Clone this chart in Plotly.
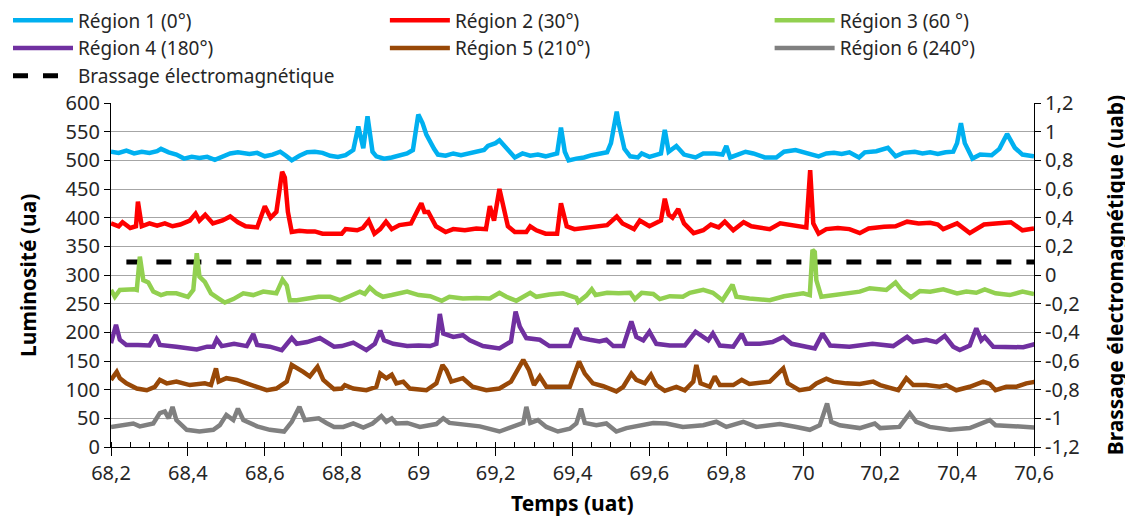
import plotly.graph_objects as go

# temps (uat) et luminosité (ua) relevés pour chaque région
t_r1 = [68.20, 68.22, 68.24, 68.26, 68.28, 68.30, 68.32, 68.33, 68.35, 68.37, 68.39, 68.41, 68.43, 68.45,
        68.47, 68.49, 68.51, 68.53, 68.56, 68.58, 68.60, 68.62, 68.64, 68.655, 68.67, 68.69, 68.71, 68.73,
        68.75, 68.77, 68.79, 68.81, 68.83, 68.843, 68.856, 68.867, 68.88, 68.89, 68.91, 68.93, 68.95, 68.97,
        68.985, 68.999, 69.01, 69.02, 69.04, 69.05, 69.07, 69.09, 69.11, 69.13, 69.15, 69.17, 69.18, 69.20,
        69.21, 69.23, 69.25, 69.27, 69.29, 69.31, 69.33, 69.36, 69.37, 69.38, 69.39, 69.41, 69.43, 69.45,
        69.47, 69.49, 69.50, 69.515, 69.52, 69.535, 69.55, 69.57, 69.58, 69.60, 69.62, 69.63, 69.64, 69.65,
        69.67, 69.69, 69.72, 69.74, 69.77, 69.79, 69.80, 69.81, 69.83, 69.85, 69.87, 69.90, 69.93, 69.95,
        69.98, 70.00, 70.02, 70.04, 70.06, 70.08, 70.10, 70.12, 70.145, 70.16, 70.19, 70.22, 70.24, 70.26,
        70.29, 70.31, 70.33, 70.35, 70.37, 70.39, 70.40, 70.41, 70.42, 70.44, 70.46, 70.49, 70.51, 70.53,
        70.55, 70.57, 70.59, 70.60]
lum_r1 = [515, 513, 517, 512, 515, 513, 516, 520, 514, 510, 503, 506, 504, 506,
          501, 506, 512, 514, 511, 513, 507, 510, 515, 508, 500, 508, 514, 515,
          513, 508, 506, 509, 518, 559, 521, 577, 515, 507, 503, 505, 509, 512,
          518, 580, 565, 545, 520, 510, 508, 512, 509, 512, 515, 518, 525, 530,
          535, 520, 505, 512, 508, 510, 507, 512, 557, 515, 500, 503, 505, 509,
          511, 514, 530, 585, 565, 520, 507, 505, 512, 506, 510, 512, 553, 515,
          525, 510, 505, 512, 512, 510, 525, 505, 510, 515, 512, 505, 505, 515,
          518, 515, 511, 507, 512, 513, 511, 514, 505, 514, 516, 522, 507, 513,
          515, 512, 514, 511, 514, 515, 530, 565, 530, 503, 510, 509, 520, 546,
          522, 510, 508, 507]

t_r2 = [68.20, 68.22, 68.23, 68.25, 68.265, 68.27, 68.28, 68.30, 68.32, 68.34, 68.36, 68.38, 68.405, 68.42,
        68.43, 68.445, 68.465, 68.49, 68.51, 68.53, 68.55, 68.58, 68.60, 68.615, 68.63, 68.645, 68.652,
        68.66, 68.67, 68.69, 68.71, 68.73, 68.75, 68.77, 68.80, 68.81, 68.84, 68.855, 68.87, 68.885, 68.90,
        68.915, 68.93, 68.95, 68.98, 68.999, 69.007, 69.015, 69.025, 69.045, 69.07, 69.09, 69.12, 69.15,
        69.175, 69.185, 69.196, 69.21, 69.22, 69.232, 69.25, 69.28, 69.29, 69.306, 69.33, 69.36, 69.37,
        69.385, 69.405, 69.43, 69.46, 69.49, 69.515, 69.53, 69.56, 69.575, 69.60, 69.63, 69.64, 69.65,
        69.66, 69.675, 69.69, 69.715, 69.74, 69.76, 69.78, 69.796, 69.818, 69.845, 69.865, 69.89, 69.913,
        69.94, 69.956, 69.98, 70.008, 70.018, 70.026, 70.04, 70.06, 70.09, 70.12, 70.147, 70.17, 70.21,
        70.24, 70.27, 70.30, 70.33, 70.35, 70.364, 70.40, 70.433, 70.47, 70.50, 70.54, 70.57, 70.60]
lum_r2 = [390, 385, 392, 382, 385, 428, 385, 390, 386, 390, 385, 388, 395, 407,
          395, 405, 390, 395, 402, 392, 385, 383, 420, 400, 410, 480, 470,
          410, 375, 377, 376, 376, 372, 372, 372, 380, 378, 382, 395, 372, 380,
          393, 380, 387, 390, 415, 425, 410, 410, 385, 375, 380, 378, 381,
          380, 420, 395, 450, 420, 385, 375, 375, 385, 378, 372, 372, 425,
          385, 380, 382, 385, 387, 402, 390, 380, 395, 385, 395, 433, 405,
          400, 415, 390, 373, 378, 388, 383, 393, 378, 392, 385, 383, 380,
          390, 388, 385, 383, 483, 390, 372, 380, 382, 380, 373, 381, 384,
          385, 393, 390, 391, 388, 380, 390, 373, 388, 390, 392, 378, 381]

t_r3 = [68.20, 68.21, 68.223, 68.24, 68.26, 68.267, 68.275, 68.284, 68.297, 68.31, 68.33, 68.345, 68.37,
        68.40, 68.414, 68.423, 68.43, 68.444, 68.46, 68.48, 68.496, 68.518, 68.544, 68.57, 68.596, 68.63,
        68.646, 68.657, 68.665, 68.683, 68.71, 68.74, 68.77, 68.795, 68.82, 68.847, 68.86, 68.873, 68.89,
        68.907, 68.93, 68.97, 69.00, 69.03, 69.06, 69.08, 69.115, 69.15, 69.185, 69.21, 69.228, 69.254,
        69.29, 69.306, 69.34, 69.375, 69.41, 69.415, 69.436, 69.45, 69.46, 69.49, 69.52, 69.55, 69.562,
        69.58, 69.61, 69.627, 69.653, 69.687, 69.705, 69.74, 69.765, 69.79, 69.816, 69.826, 69.86, 69.913,
        69.95, 70.00, 70.017, 70.024, 70.03, 70.034, 70.047, 70.078, 70.112, 70.147, 70.173, 70.216, 70.24,
        70.255, 70.28, 70.303, 70.33, 70.364, 70.40, 70.424, 70.45, 70.472, 70.50, 70.537, 70.57, 70.60]
lum_r3 = [274, 262, 274, 275, 275, 274, 332, 291, 287, 271, 265, 268, 268,
          262, 274, 338, 297, 288, 268, 259, 252, 258, 268, 265, 271, 268,
          292, 282, 256, 256, 259, 262, 262, 256, 263, 271, 267, 278, 268,
          262, 265, 271, 265, 263, 255, 262, 259, 260, 259, 269, 262, 255,
          269, 262, 266, 268, 260, 253, 264, 275, 265, 269, 268, 269, 258,
          269, 267, 258, 263, 262, 269, 274, 269, 256, 283, 262, 259, 256,
          263, 268, 265, 344, 340, 291, 262, 265, 268, 271, 277, 274, 287,
          274, 261, 272, 271, 275, 268, 271, 269, 275, 268, 265, 271, 267]

t_r4 = [68.20, 68.213, 68.223, 68.24, 68.27, 68.30, 68.316, 68.327, 68.37, 68.40, 68.423, 68.45, 68.466,
        68.475, 68.488, 68.52, 68.553, 68.57, 68.58, 68.613, 68.644, 68.67, 68.683, 68.71, 68.743, 68.78,
        68.80, 68.83, 68.864, 68.886, 68.90, 68.91, 68.934, 68.97, 69.00, 69.03, 69.046, 69.055, 69.064,
        69.09, 69.115, 69.133, 69.167, 69.21, 69.24, 69.252, 69.263, 69.28, 69.315, 69.34, 69.376, 69.393,
        69.41, 69.423, 69.445, 69.47, 69.488, 69.506, 69.532, 69.553, 69.566, 69.584, 69.60, 69.618, 69.653,
        69.692, 69.72, 69.735, 69.753, 69.765, 69.783, 69.818, 69.84, 69.852, 69.887, 69.92, 69.948, 69.97,
        70.00, 70.03, 70.05, 70.07, 70.12, 70.18, 70.234, 70.27, 70.286, 70.32, 70.346, 70.368, 70.39,
        70.407, 70.433, 70.45, 70.463, 70.472, 70.494, 70.537, 70.572, 70.606]
lum_r4 = [181, 213, 187, 178, 178, 177, 195, 178, 175, 172, 170, 175, 175,
          188, 176, 180, 176, 197, 178, 175, 169, 190, 180, 183, 190, 175,
          176, 182, 169, 180, 203, 186, 180, 176, 177, 176, 180, 232, 198,
          192, 195, 186, 176, 172, 184, 236, 210, 190, 187, 176, 176, 176,
          207, 190, 187, 184, 187, 176, 176, 219, 192, 186, 201, 180, 177,
          177, 201, 195, 186, 198, 177, 175, 197, 180, 180, 183, 192, 180,
          176, 172, 198, 177, 175, 180, 176, 192, 183, 187, 183, 194, 175,
          169, 177, 207, 186, 192, 175, 175, 174, 180]

t_r5 = [68.20, 68.215, 68.223, 68.24, 68.267, 68.293, 68.314, 68.327, 68.345, 68.37, 68.405, 68.444,
        68.46, 68.473, 68.48, 68.50, 68.527, 68.553, 68.58, 68.605, 68.63, 68.657, 68.67, 68.687, 68.70,
        68.717, 68.737, 68.752, 68.77, 68.78, 68.80, 68.808, 68.83, 68.864, 68.89, 68.90, 68.916, 68.93,
        68.942, 68.96, 68.977, 69.02, 69.046, 69.062, 69.072, 69.085, 69.115, 69.14, 69.176, 69.21, 69.24,
        69.254, 69.272, 69.287, 69.30, 69.315, 69.332, 69.367, 69.393, 69.417, 69.432, 69.453, 69.48,
        69.514, 69.532, 69.553, 69.566, 69.588, 69.604, 69.618, 69.64, 69.67, 69.692, 69.714, 69.722,
        69.733, 69.757, 69.77, 69.783, 69.818, 69.84, 69.86, 69.913, 69.948, 69.96, 69.99, 70.017, 70.034,
        70.06, 70.078, 70.112, 70.147, 70.182, 70.20, 70.247, 70.268, 70.286, 70.32, 70.355, 70.372,
        70.398, 70.433, 70.468, 70.485, 70.50, 70.528, 70.554, 70.58, 70.606]
lum_r5 = [117, 131, 120, 111, 102, 99, 105, 117, 111, 114, 108, 111,
          108, 137, 114, 120, 117, 111, 105, 99, 102, 114, 143, 137, 131,
          123, 140, 117, 105, 101, 102, 108, 102, 99, 105, 128, 120, 126,
          111, 114, 102, 99, 111, 143, 134, 114, 120, 105, 99, 102, 114,
          131, 152, 134, 108, 123, 105, 105, 105, 149, 128, 111, 106,
          97, 105, 128, 117, 111, 126, 108, 98, 105, 99, 114, 143,
          111, 105, 123, 108, 108, 117, 110, 114, 137, 111, 99, 102, 111,
          119, 114, 111, 110, 114, 108, 99, 120, 108, 108, 105, 108,
          99, 105, 114, 110, 99, 105, 105, 111, 114]

t_r6 = [68.20, 68.232, 68.258, 68.275, 68.31, 68.327, 68.34, 68.35, 68.36, 68.37, 68.397, 68.43, 68.466,
        68.483, 68.50, 68.518, 68.53, 68.544, 68.58, 68.613, 68.65, 68.67, 68.69, 68.704, 68.74, 68.76,
        68.78, 68.804, 68.83, 68.856, 68.88, 68.903, 68.916, 68.93, 68.942, 68.97, 69.003, 69.046, 69.064,
        69.08, 69.115, 69.159, 69.21, 69.246, 69.272, 69.28, 69.29, 69.31, 69.332, 69.362, 69.393, 69.41,
        69.422, 69.432, 69.462, 69.488, 69.514, 69.54, 69.575, 69.61, 69.644, 69.687, 69.74, 69.774, 69.80,
        69.844, 69.878, 69.939, 69.982, 70.017, 70.043, 70.062, 70.073, 70.095, 70.147, 70.186, 70.20,
        70.25, 70.277, 70.294, 70.329, 70.381, 70.433, 70.485, 70.50, 70.554, 70.606]
lum_r6 = [35, 38, 41, 36, 41, 59, 62, 50, 70, 47, 30, 27, 30,
          38, 56, 47, 67, 47, 36, 30, 27, 44, 70, 47, 50, 42,
          35, 35, 41, 34, 41, 54, 44, 50, 41, 42, 35, 40, 50,
          42, 40, 36, 27, 35, 42, 70, 42, 47, 35, 27, 32, 41,
          67, 42, 38, 41, 27, 33, 38, 42, 41, 35, 38, 44, 35,
          44, 35, 40, 35, 30, 38, 76, 44, 38, 33, 41, 33,
          35, 59, 44, 35, 30, 33, 47, 38, 35, 34]

# brassage électromagnétique (uab)
t_brassage = [68.24, 70.60]
brassage = [0.09, 0.09]

regions = ["Région 1 (0°)", "Région 2 (30°)", "Région 3 (60 °)",
           "Région 4 (180°)", "Région 5 (210°)", "Région 6 (240°)"]
colors = ["#00B0F0", "#FF0000", "#92D050", "#7030A0", "#984807", "#808080"]
legend_cols = ["legend", "legend2", "legend3", "legend", "legend2", "legend3"]
series_t = [t_r1, t_r2, t_r3, t_r4, t_r5, t_r6]
series_lum = [lum_r1, lum_r2, lum_r3, lum_r4, lum_r5, lum_r6]

x_ticks = [68.2, 68.4, 68.6, 68.8, 69.0, 69.2, 69.4, 69.6, 69.8, 70.0, 70.2, 70.4, 70.6]
right_ticks = [-1.2, -1.0, -0.8, -0.6, -0.4, -0.2, 0.0, 0.2, 0.4, 0.6, 0.8, 1.0, 1.2]


def fr(v):
    s = f"{v:.1f}".rstrip("0").rstrip(".").replace(".", ",")
    return "0" if s in ("-0", "0") else s


fig = go.Figure()

# brassage on the primary (right) axis so the luminosity curves are drawn over it
fig.add_trace(go.Scatter(x=t_brassage, y=brassage, name="Brassage électromagnétique",
                         mode="lines", yaxis="y", legend="legend", legendrank=3,
                         line=dict(color="black", width=5, dash="dash")))
for i, (name, t, lum, c) in enumerate(zip(regions, series_t, series_lum, colors)):
    fig.add_trace(go.Scatter(x=t, y=lum, name=name, mode="lines", yaxis="y2",
                             legend=legend_cols[i], legendrank=i // 3 + 1,
                             line=dict(color=c, width=4.5)))

# page body adds an 8 px offset, so the figure is drawn 8 px smaller
W, H = 1125, 508
leg = dict(orientation="v", xref="container", yref="paper", y=1.295,
           xanchor="left", yanchor="top", itemwidth=60, bgcolor="rgba(0,0,0,0)",
           font=dict(size=19, color="#262626"), traceorder="normal")
title_font = dict(size=21, color="black", family="Noto Sans, Open Sans, sans-serif")

fig.update_layout(
    width=W, height=H,
    margin=dict(l=103, r=99, t=95, b=69, autoexpand=False),
    plot_bgcolor="white", paper_bgcolor="white",
    font=dict(family="Noto Sans, Open Sans, sans-serif", size=20, color="#262626"),
    separators=", ",
    legend=dict(leg, x=0.0),
    legend2=dict(leg, x=0.335),
    legend3=dict(leg, x=0.677),
    xaxis=dict(range=[68.2, 70.6], tickvals=x_ticks, showgrid=False, zeroline=False,
               showline=True, linecolor="black", linewidth=1.2,
               ticks="outside", ticklen=8, tickcolor="black",
               minor=dict(dtick=0.05, tick0=68.2, ticks="inside", ticklen=5, tickcolor="black")),
    yaxis=dict(range=[-1.2, 1.2], side="right", tickvals=right_ticks,
               ticktext=[fr(v) for v in right_ticks], showgrid=False, zeroline=False,
               showline=True, linecolor="black", linewidth=1.2,
               ticks="outside", ticklen=6, tickcolor="black"),
    yaxis2=dict(range=[0, 600], dtick=50, overlaying="y", side="left",
                showgrid=True, gridcolor="#A6A6A6", gridwidth=1.2, zeroline=False,
                showline=True, linecolor="black", linewidth=1.2,
                ticks="outside", ticklen=6, tickcolor="black"),
    annotations=[
        dict(text="<b>Temps (uat)</b>", xref="paper", yref="paper", x=0.5, y=-0.163,
             showarrow=False, font=title_font, xanchor="center", yanchor="middle"),
        dict(text="<b>Luminosité (ua)</b>", xref="paper", yref="paper", x=-0.09, y=0.5,
             showarrow=False, font=title_font, textangle=-90, xanchor="center", yanchor="middle"),
        dict(text="<b>Brassage électromagnétique (uab)</b>", xref="paper", yref="paper",
             x=1.088, y=0.5, showarrow=False, font=title_font, textangle=-90,
             xanchor="center", yanchor="middle"),
    ],
)

fig.write_html("out.html")
